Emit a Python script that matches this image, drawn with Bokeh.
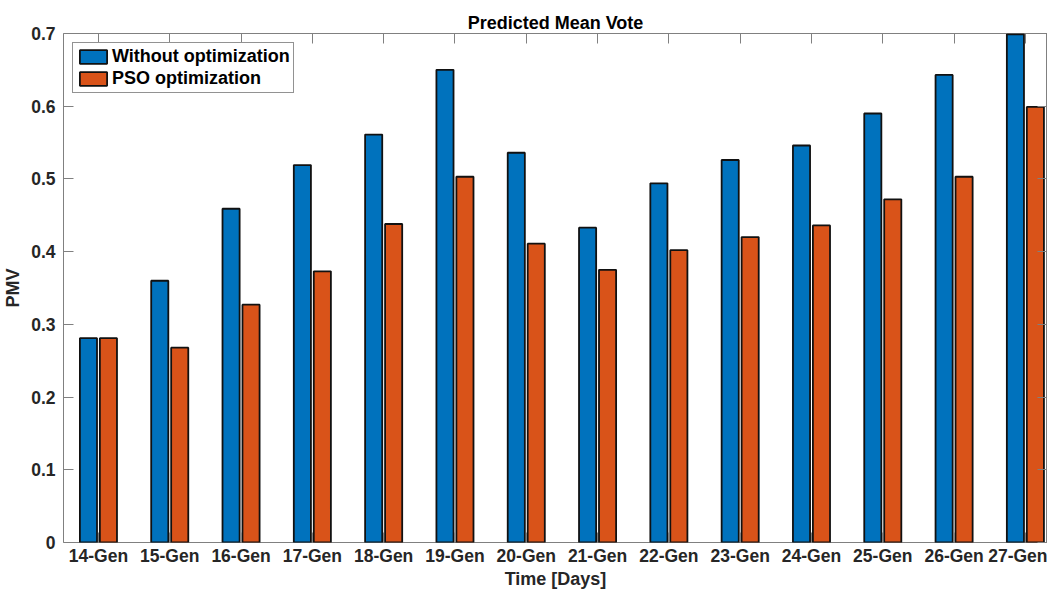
from bokeh.plotting import figure
from bokeh.models import Range1d, FixedTicker, LinearAxis, Legend, LegendItem
from bokeh.embed import file_html
from bokeh.resources import INLINE
import numpy as np

# data
days = ["14-Gen", "15-Gen", "16-Gen", "17-Gen", "18-Gen", "19-Gen", "20-Gen",
        "21-Gen", "22-Gen", "23-Gen", "24-Gen", "25-Gen", "26-Gen", "27-Gen"]
without_opt = [0.281, 0.360, 0.459, 0.519, 0.561, 0.650, 0.536,
               0.433, 0.494, 0.526, 0.546, 0.590, 0.643, 0.699]
pso_opt = [0.281, 0.268, 0.327, 0.373, 0.438, 0.503, 0.411,
           0.375, 0.402, 0.420, 0.436, 0.472, 0.503, 0.599]
y_ticks = [0, 0.1, 0.2, 0.3, 0.4, 0.5, 0.6, 0.7]

idx = np.arange(1, len(days) + 1)
font = "Liberation Sans"
axis_gray = "#808080"
text_col = "#262626"

p = figure(width=1047, height=591,
           x_range=Range1d(0.51, 14.31), y_range=Range1d(0, 0.7),
           output_backend="svg", toolbar_location=None,
           min_border_left=63, min_border_right=0,
           min_border_top=33, min_border_bottom=46)

p.title.text = "Predicted Mean Vote"
p.title.align = "center"
p.title.text_font = font
p.title.text_font_size = "18px"
p.title.text_font_style = "bold"
p.title.text_color = "#000000"
p.title.offset = 0
p.title.standoff = 1

p.grid.visible = False
p.outline_line_color = axis_gray
p.outline_line_width = 1

b1 = p.vbar(x=idx - 0.14, top=without_opt, width=0.24,
            fill_color="#0072BD", line_color="#111111", line_width=1.8)
b2 = p.vbar(x=idx + 0.14, top=pso_opt, width=0.24,
            fill_color="#D95319", line_color="#111111", line_width=1.8)

xt = FixedTicker(ticks=list(idx))
yt = FixedTicker(ticks=y_ticks)
x_labels = {int(i): d for i, d in zip(idx, days)}
y_labels = {v: ("0" if v == 0 else "%.1f" % v) for v in y_ticks}


def style(ax, labels=True):
    ax.axis_line_color = None
    ax.major_tick_line_color = axis_gray
    ax.major_tick_in = 10
    ax.major_tick_out = 0
    ax.minor_tick_line_color = None
    ax.major_label_text_font = font
    ax.major_label_text_font_style = "bold"
    if labels:
        ax.major_label_text_color = text_col
        ax.major_label_text_font_size = "17.5px"
    else:
        # tick marks only, like the box of the original figure
        ax.major_label_text_color = None
        ax.major_label_text_font_size = "1px"
    ax.axis_label_text_font = font
    ax.axis_label_text_font_style = "bold"
    ax.axis_label_text_color = text_col
    ax.axis_label_text_font_size = "18px"


p.xaxis.ticker = xt
p.xaxis.major_label_overrides = x_labels
p.xaxis.axis_label = "Time [Days]"
p.xaxis.major_label_standoff = 3
p.xaxis.axis_label_standoff = 0
p.yaxis.ticker = yt
p.yaxis.major_label_overrides = y_labels
p.yaxis.axis_label = "PMV"
p.yaxis.major_label_standoff = 8
p.yaxis.axis_label_standoff = 5
style(p.xaxis[0])
style(p.yaxis[0])

top = LinearAxis(ticker=xt, major_label_standoff=0)
style(top, labels=False)
p.add_layout(top, "above")
right = LinearAxis(ticker=yt, major_label_standoff=0)
style(right, labels=False)
p.add_layout(right, "right")

legend = Legend(items=[LegendItem(label="Without optimization", renderers=[b1]),
                       LegendItem(label="PSO optimization", renderers=[b2])],
                location="top_left", margin=9, padding=3, spacing=1,
                glyph_width=34, glyph_height=17, label_standoff=2,
                label_text_font=font, label_text_font_style="bold",
                label_text_font_size="18px", label_text_color="#000000",
                label_height=17,
                border_line_color="#262626", border_line_width=1,
                background_fill_alpha=1)
p.add_layout(legend, "center")

open("out.html", "w").write(file_html(p, INLINE))
